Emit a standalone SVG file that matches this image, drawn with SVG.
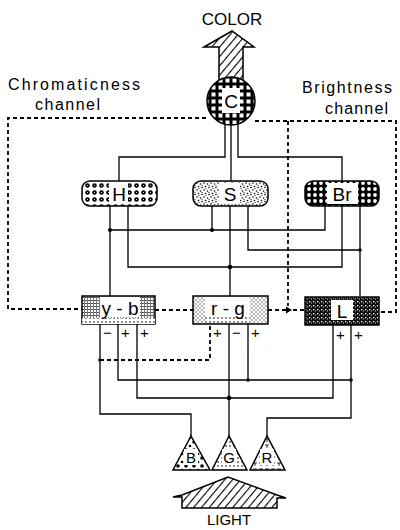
<svg xmlns="http://www.w3.org/2000/svg" width="400" height="530" viewBox="0 0 400 530">
<style>
text{font-family:"Liberation Sans",Arial,sans-serif;fill:#000}
.lbl{font-size:16px}
.box{font-size:19px;text-anchor:middle}
.sg{font-size:15px}
.w{fill:none;stroke:#000;stroke-width:1.3}
.d{fill:none;stroke:#000;stroke-width:1.8;stroke-dasharray:4 3}
.o{stroke:#000;stroke-width:1.5}
</style>
<defs>
<pattern id="hatch" width="6" height="6" patternUnits="userSpaceOnUse" patternTransform="rotate(40)"><rect width="6" height="6" fill="#fff"/><line x1="0" y1="0" x2="0" y2="6" stroke="#000" stroke-width="2.2"/></pattern>
<pattern id="pH" width="7" height="7" patternUnits="userSpaceOnUse"><rect width="7" height="7" fill="#fff"/><circle cx="3.5" cy="3.5" r="2.3" fill="#000"/><circle cx="3.5" cy="3.5" r="0.6" fill="#fff"/></pattern>
<pattern id="pS" width="7" height="7" patternUnits="userSpaceOnUse"><rect width="7" height="7" fill="#fff"/><circle cx="1" cy="1" r="0.8"/><circle cx="4.5" cy="2" r="0.8"/><circle cx="2.5" cy="4.5" r="0.8"/><circle cx="6" cy="5.5" r="0.8"/><circle cx="3" cy="6.5" r="0.6"/><circle cx="6" cy="3.5" r="0.6"/></pattern>
<pattern id="pBr" width="6" height="6" patternUnits="userSpaceOnUse"><rect width="6" height="6" fill="#000"/><circle cx="3" cy="3" r="1.9" fill="#fff"/></pattern>
<pattern id="pC" width="7" height="7" patternUnits="userSpaceOnUse"><rect width="7" height="7" fill="#000"/><rect x="1.5" y="1.5" width="4" height="4" fill="#fff"/></pattern>
<pattern id="pYB" width="3" height="3" patternUnits="userSpaceOnUse"><rect width="3" height="3" fill="#fff"/><rect width="3" height="1" fill="#555"/><rect width="1" height="3" fill="#777"/></pattern>
<pattern id="pRG" width="4" height="4" patternUnits="userSpaceOnUse"><rect width="4" height="4" fill="#fff"/><path d="M0,0 L4,4 M4,0 L0,4" stroke="#888" stroke-width="0.6"/></pattern>
<pattern id="pL" width="4" height="4" patternUnits="userSpaceOnUse"><rect width="4" height="4" fill="#111"/><rect x="1" y="1" width="1.3" height="1.3" fill="#fff"/><rect x="3" y="2.5" width="1" height="1" fill="#ccc"/></pattern>
<pattern id="pdot" width="4" height="4" patternUnits="userSpaceOnUse"><rect width="4" height="4" fill="#fff"/><circle cx="2" cy="2" r="0.8"/></pattern>
<pattern id="pB" width="8" height="8" patternUnits="userSpaceOnUse"><rect width="8" height="8" fill="#fff"/><circle cx="2" cy="2" r="1.8"/><circle cx="6" cy="6" r="1.3"/></pattern>
<pattern id="pR" width="6" height="6" patternUnits="userSpaceOnUse"><rect width="6" height="6" fill="#fff"/><path d="M1,1 H5 M3,1 V4" stroke="#000" stroke-width="0.8"/></pattern>
</defs>

<g id="labels">
<text x="232" y="25" font-size="17" text-anchor="middle">COLOR</text>
<text class="lbl" x="8" y="90" textLength="132" lengthAdjust="spacing">Chromaticness</text>
<text class="lbl" x="35" y="110" textLength="65" lengthAdjust="spacing">channel</text>
<text class="lbl" x="302" y="93" textLength="90" lengthAdjust="spacing">Brightness</text>
<text class="lbl" x="325" y="114" textLength="63" lengthAdjust="spacing">channel</text>
<text x="229" y="525" font-size="15" text-anchor="middle">LIGHT</text>
</g>

<g id="connectors">
<path class="d" d="M206,118 H8 V309 H82"/>
<path class="d" d="M155,310 H193"/>
<path class="d" d="M268,310 H286 M293,310 H305"/>
<path class="d" d="M255,121 H396 V312 H379"/>
<path class="d" d="M288,121 V306"/>
<polygon points="286,306.5 292,310 286,313.5" fill="#000"/>
<path class="d" d="M100,360 H210 V324"/>
<path class="w" d="M225,124 V157 H119 V181"/>
<path class="w" d="M231,125 V181"/>
<path class="w" d="M238,124 V157 H342 V181"/>
<path class="w" d="M110,206 V296"/>
<path class="w" d="M128,206 V267 H342 V206"/>
<path class="w" d="M212,206 V230"/>
<path class="w" d="M230,206 V296"/>
<path class="w" d="M248,206 V250 H360"/>
<path class="w" d="M325,206 V230 H110"/>
<path class="w" d="M360,206 V296"/>
<path class="w" d="M100,324 V414 H191 V436"/>
<path class="w" d="M118,324 V380 H351"/>
<path class="w" d="M137,324 V398 H333 V324"/>
<path class="w" d="M229,324 V436"/>
<path class="w" d="M248,324 V380"/>
<path class="w" d="M351,324 V418 H267 V436"/>
<g fill="#000">
<circle cx="110" cy="230" r="2"/>
<circle cx="212" cy="230" r="2"/>
<circle cx="230" cy="267" r="2.3"/>
<circle cx="360" cy="250" r="1.8"/>
<circle cx="100" cy="360" r="1.8"/>
<circle cx="248" cy="380" r="1.8"/>
<circle cx="351" cy="380" r="1.8"/>
<circle cx="229" cy="398" r="2.3"/>
</g>
</g>

<g id="color-arrow">
<polygon class="o" points="204,47 232,31 254,47 243,47 243,80 219,80 219,47" fill="url(#hatch)"/>
</g>

<g id="node-C">
<circle class="o" cx="231" cy="101" r="24" fill="url(#pC)"/>
<rect x="222" y="88" width="18" height="25" fill="#fff"/>
<text class="box" x="231" y="108">C</text>
</g>

<g id="node-H">
<rect class="o" x="82" y="181" width="75" height="25" rx="8" fill="url(#pH)"/>
<rect x="109" y="183" width="19" height="21" fill="#fff"/>
<text class="box" x="119" y="201">H</text>
</g>
<g id="node-S">
<rect class="o" x="193" y="181" width="75" height="25" rx="8" fill="url(#pS)"/>
<rect x="219" y="183" width="21" height="21" fill="#fff"/>
<text class="box" x="230" y="201">S</text>
</g>
<g id="node-Br">
<rect class="o" x="305" y="181" width="74" height="25" rx="8" fill="url(#pBr)"/>
<rect x="327" y="183" width="31" height="21" fill="#fff"/>
<text class="box" x="342" y="201">Br</text>
</g>

<g id="node-yb">
<rect class="o" x="82" y="296" width="73" height="28" fill="url(#pYB)"/>
<rect x="82" y="318" width="73" height="6" fill="url(#pdot)"/>
<rect x="100" y="297" width="40" height="20" fill="#fff"/>
<text class="box" x="120" y="315">y - b</text>
</g>
<g id="node-rg">
<rect class="o" x="193" y="296" width="75" height="28" fill="url(#pRG)"/>
<rect x="205" y="297" width="45" height="20" fill="#fff"/>
<rect x="205" y="317" width="45" height="6" fill="url(#pdot)"/>
<text class="box" x="228" y="315">r - g</text>
</g>
<g id="node-L">
<rect class="o" x="305" y="297" width="74" height="28" fill="url(#pL)"/>
<rect x="331" y="300" width="22" height="20" fill="#fff"/>
<text class="box" x="342" y="318">L</text>
</g>

<g id="signs" class="sg">
<text x="103" y="338">−</text>
<text x="121" y="338">+</text>
<text x="140" y="338">+</text>
<text x="213" y="338">+</text>
<text x="232" y="338">−</text>
<text x="251" y="338">+</text>
<text x="336" y="340">+</text>
<text x="354" y="340">+</text>
</g>

<g id="node-B">
<polygon class="o" points="191,436 173,470 210,470" fill="url(#pB)"/>
<rect x="184" y="449" width="14" height="16" fill="#fff"/>
<text x="191" y="463" font-size="15" text-anchor="middle">B</text>
</g>
<g id="node-G">
<polygon class="o" points="229,436 212,470 247,470" fill="url(#pdot)"/>
<rect x="222" y="449" width="14" height="16" fill="#fff"/>
<text x="229" y="463" font-size="15" text-anchor="middle">G</text>
</g>
<g id="node-R">
<polygon class="o" points="267,436 250,470 285,470" fill="url(#pR)"/>
<rect x="260" y="449" width="14" height="16" fill="#fff"/>
<text x="267" y="463" font-size="15" text-anchor="middle">R</text>
</g>

<g id="light-arrow">
<polygon class="o" points="173,497 182,495 228,477 277,495 286,498 277,498 277,508 182,508 182,497" fill="url(#hatch)"/>
</g>
</svg>
